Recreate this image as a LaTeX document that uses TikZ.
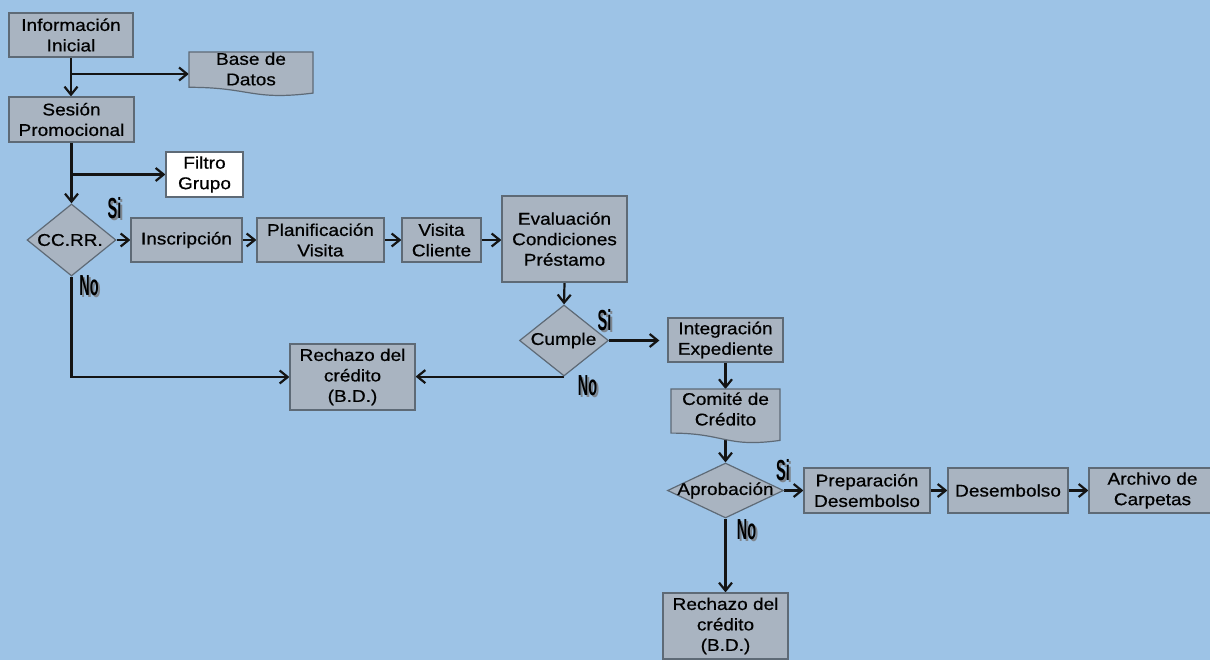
\documentclass[tikz,border=0pt]{standalone}
\usepackage{fontspec}
\setmainfont{Liberation Sans}[FakeStretch=1.12,FakeBold=0.6]
\newfontfamily\sinofont{Liberation Sans}[FakeStretch=0.5]
\usetikzlibrary{arrows.meta,shapes.geometric}
\definecolor{bgc}{HTML}{9DC3E6}
\definecolor{boxc}{HTML}{A9B4C1}
\definecolor{bordc}{HTML}{5E6A76}
\definecolor{linec}{HTML}{141414}
\definecolor{shadc}{HTML}{7D858E}
\pgfdeclarelayer{back}
\pgfdeclarelayer{lines}
\pgfsetlayers{back,lines,main}
\tikzset{
  base/.style={font=\fontsize{17}{20.5}\selectfont, align=center, text=black},
  box/.style={base, draw=bordc, fill=boxc, line width=1.2pt, inner sep=0pt},
  wbox/.style={box, fill=white},
  dia/.style={draw=bordc, fill=boxc, line width=1.2pt, shape=diamond, inner sep=0pt},
  docshape/.style={draw=bordc, fill=boxc, line width=1.2pt},
  lbl/.style={base, inner sep=0pt},
  conn/.style={draw=linec, line width=2.2pt, -{Straight Barb[length=8pt,width=13pt,line width=2.2pt]}},
  sino/.style={font=\sinofont\bfseries\fontsize{29}{29}\selectfont, inner sep=0pt, text=black},
  sinosh/.style={sino, text=shadc},
}
\begin{document}
\begin{tikzpicture}[x=1pt,y=-1pt]
\useasboundingbox (0,0) rectangle (1210,660);
\begin{pgfonlayer}{back}
\fill[bgc] (0,0) rectangle (1210,660);
\end{pgfonlayer}

% document shapes
\draw[docshape] (189,52) -- (313,52) -- (313,93.1) .. controls (251,100.8) and (251,87.3) .. (189,87.3) -- cycle;
\draw[docshape] (671,389) -- (780,389) -- (780,440.4) .. controls (725.5,448) and (725.5,433.1) .. (671,433.1) -- cycle;

% boxes
\node[box, minimum width=124pt, minimum height=44pt] (info) at (71,35) {Información\\Inicial};
\node[lbl, minimum width=124pt] (bd) at (251,69) {Base de\\Datos};
\node[box, minimum width=125pt, minimum height=45pt] (sesion) at (71.5,119.5) {Sesión\\Promocional};
\node[wbox, minimum width=77pt, minimum height=45pt] (filtro) at (204.5,174.5) {Filtro\\Grupo};

\node[dia, minimum width=89pt, minimum height=72pt] (cc) at (71.5,240) {};
\node[lbl] (cctxt) at (70,240) {CC.RR.};

\node[box, minimum width=111pt, minimum height=44pt] (insc) at (186.5,240) {Inscripción};
\node[box, minimum width=127pt, minimum height=44pt] (plan) at (320.5,240) {Planificación\\Visita};
\node[box, minimum width=79pt, minimum height=44pt] (visita) at (441.5,240) {Visita\\Cliente};
\node[box, minimum width=125pt, minimum height=86pt] (eval) at (564.5,239) {Evaluación\\Condiciones\\Préstamo};

\node[dia, minimum width=89pt, minimum height=71pt] (cumple) at (564,340.5) {};
\node[lbl] (cumpletxt) at (563.5,340.5) {Cumple};

\node[box, minimum width=115pt, minimum height=44pt] (integ) at (725.5,340) {Integración\\Expediente};
\node[box, minimum width=125pt, minimum height=66pt] (rech1) at (352.5,377) {Rechazo del\\crédito\\(B.D.)};

\node[lbl, minimum width=109pt] (com) at (725.5,409) {Comité de\\Crédito};
\coordinate (comtop) at (725.5,389);

\node[dia, minimum width=116pt, minimum height=55pt] (apr) at (725.5,490.5) {};
\node[lbl] (aprtxt) at (725.5,490.5) {Aprobación};

\node[box, minimum width=126pt, minimum height=45pt] (prep) at (867,490.5) {Preparación\\Desembolso};
\node[box, minimum width=120pt, minimum height=45pt] (desem) at (1008,490.5) {Desembolso};
\node[box, minimum width=127pt, minimum height=45pt] (arch) at (1152.5,490.5) {Archivo de\\Carpetas};
\node[box, minimum width=125pt, minimum height=66pt] (rech2) at (725.5,626) {Rechazo del\\crédito\\(B.D.)};

% Si / No labels
\node[sinosh] (si1s) at (116.5,210.5) {Si};
\node[sino] (si1) at (114.5,208.5) {Si};
\node[sinosh] (no1s) at (91,288) {No};
\node[sino] (no1) at (89,286) {No};
\node[sinosh] (si2s) at (606.5,322) {Si};
\node[sino] (si2) at (604.5,320) {Si};
\node[sinosh] (no2s) at (589.5,388) {No};
\node[sino] (no2) at (587.5,386) {No};
\node[sinosh] (si3s) at (785,472) {Si};
\node[sino] (si3) at (783,470) {Si};
\node[sinosh] (no3s) at (748.5,532) {No};
\node[sino] (no3) at (746.5,530) {No};

% connectors
\coordinate (b1) at (71,74);
\coordinate (b2) at (71.5,174.5);
\begin{pgfonlayer}{lines}
\draw[conn] (info.south) -- (info.south |- sesion.north);
\draw[conn] (b1) -- (b1 -| bd.west);
\draw[conn] (sesion.south) -- (cc.north);
\draw[conn] (b2) -- (filtro.west);
\draw[conn] (cc.east) -- (cc.east -| insc.west);
\draw[conn] (insc.east) -- (plan.west);
\draw[conn] (plan.east) -- (visita.west);
\draw[conn] (visita.east) -- (visita.east -| eval.west);
\draw[conn] (eval.south) -- (cumple.north);
\draw[conn, shorten >=8pt] (cumple.east) -- (cumple.east -| integ.west);
\draw[conn] (cumple.south) -- (cumple.south -| rech1.east);
\draw[conn] (cc.south) |- (rech1.west);
\draw[conn] (integ.south) -- (comtop);
\draw[conn] (com) -- (apr.north);
\draw[conn] (apr.east) -- (apr.east -| prep.west);
\draw[conn] (prep.east) -- (desem.west);
\draw[conn] (desem.east) -- (arch.west);
\draw[conn] (apr.south) -- (rech2.north);
\end{pgfonlayer}
\end{tikzpicture}
\end{document}
